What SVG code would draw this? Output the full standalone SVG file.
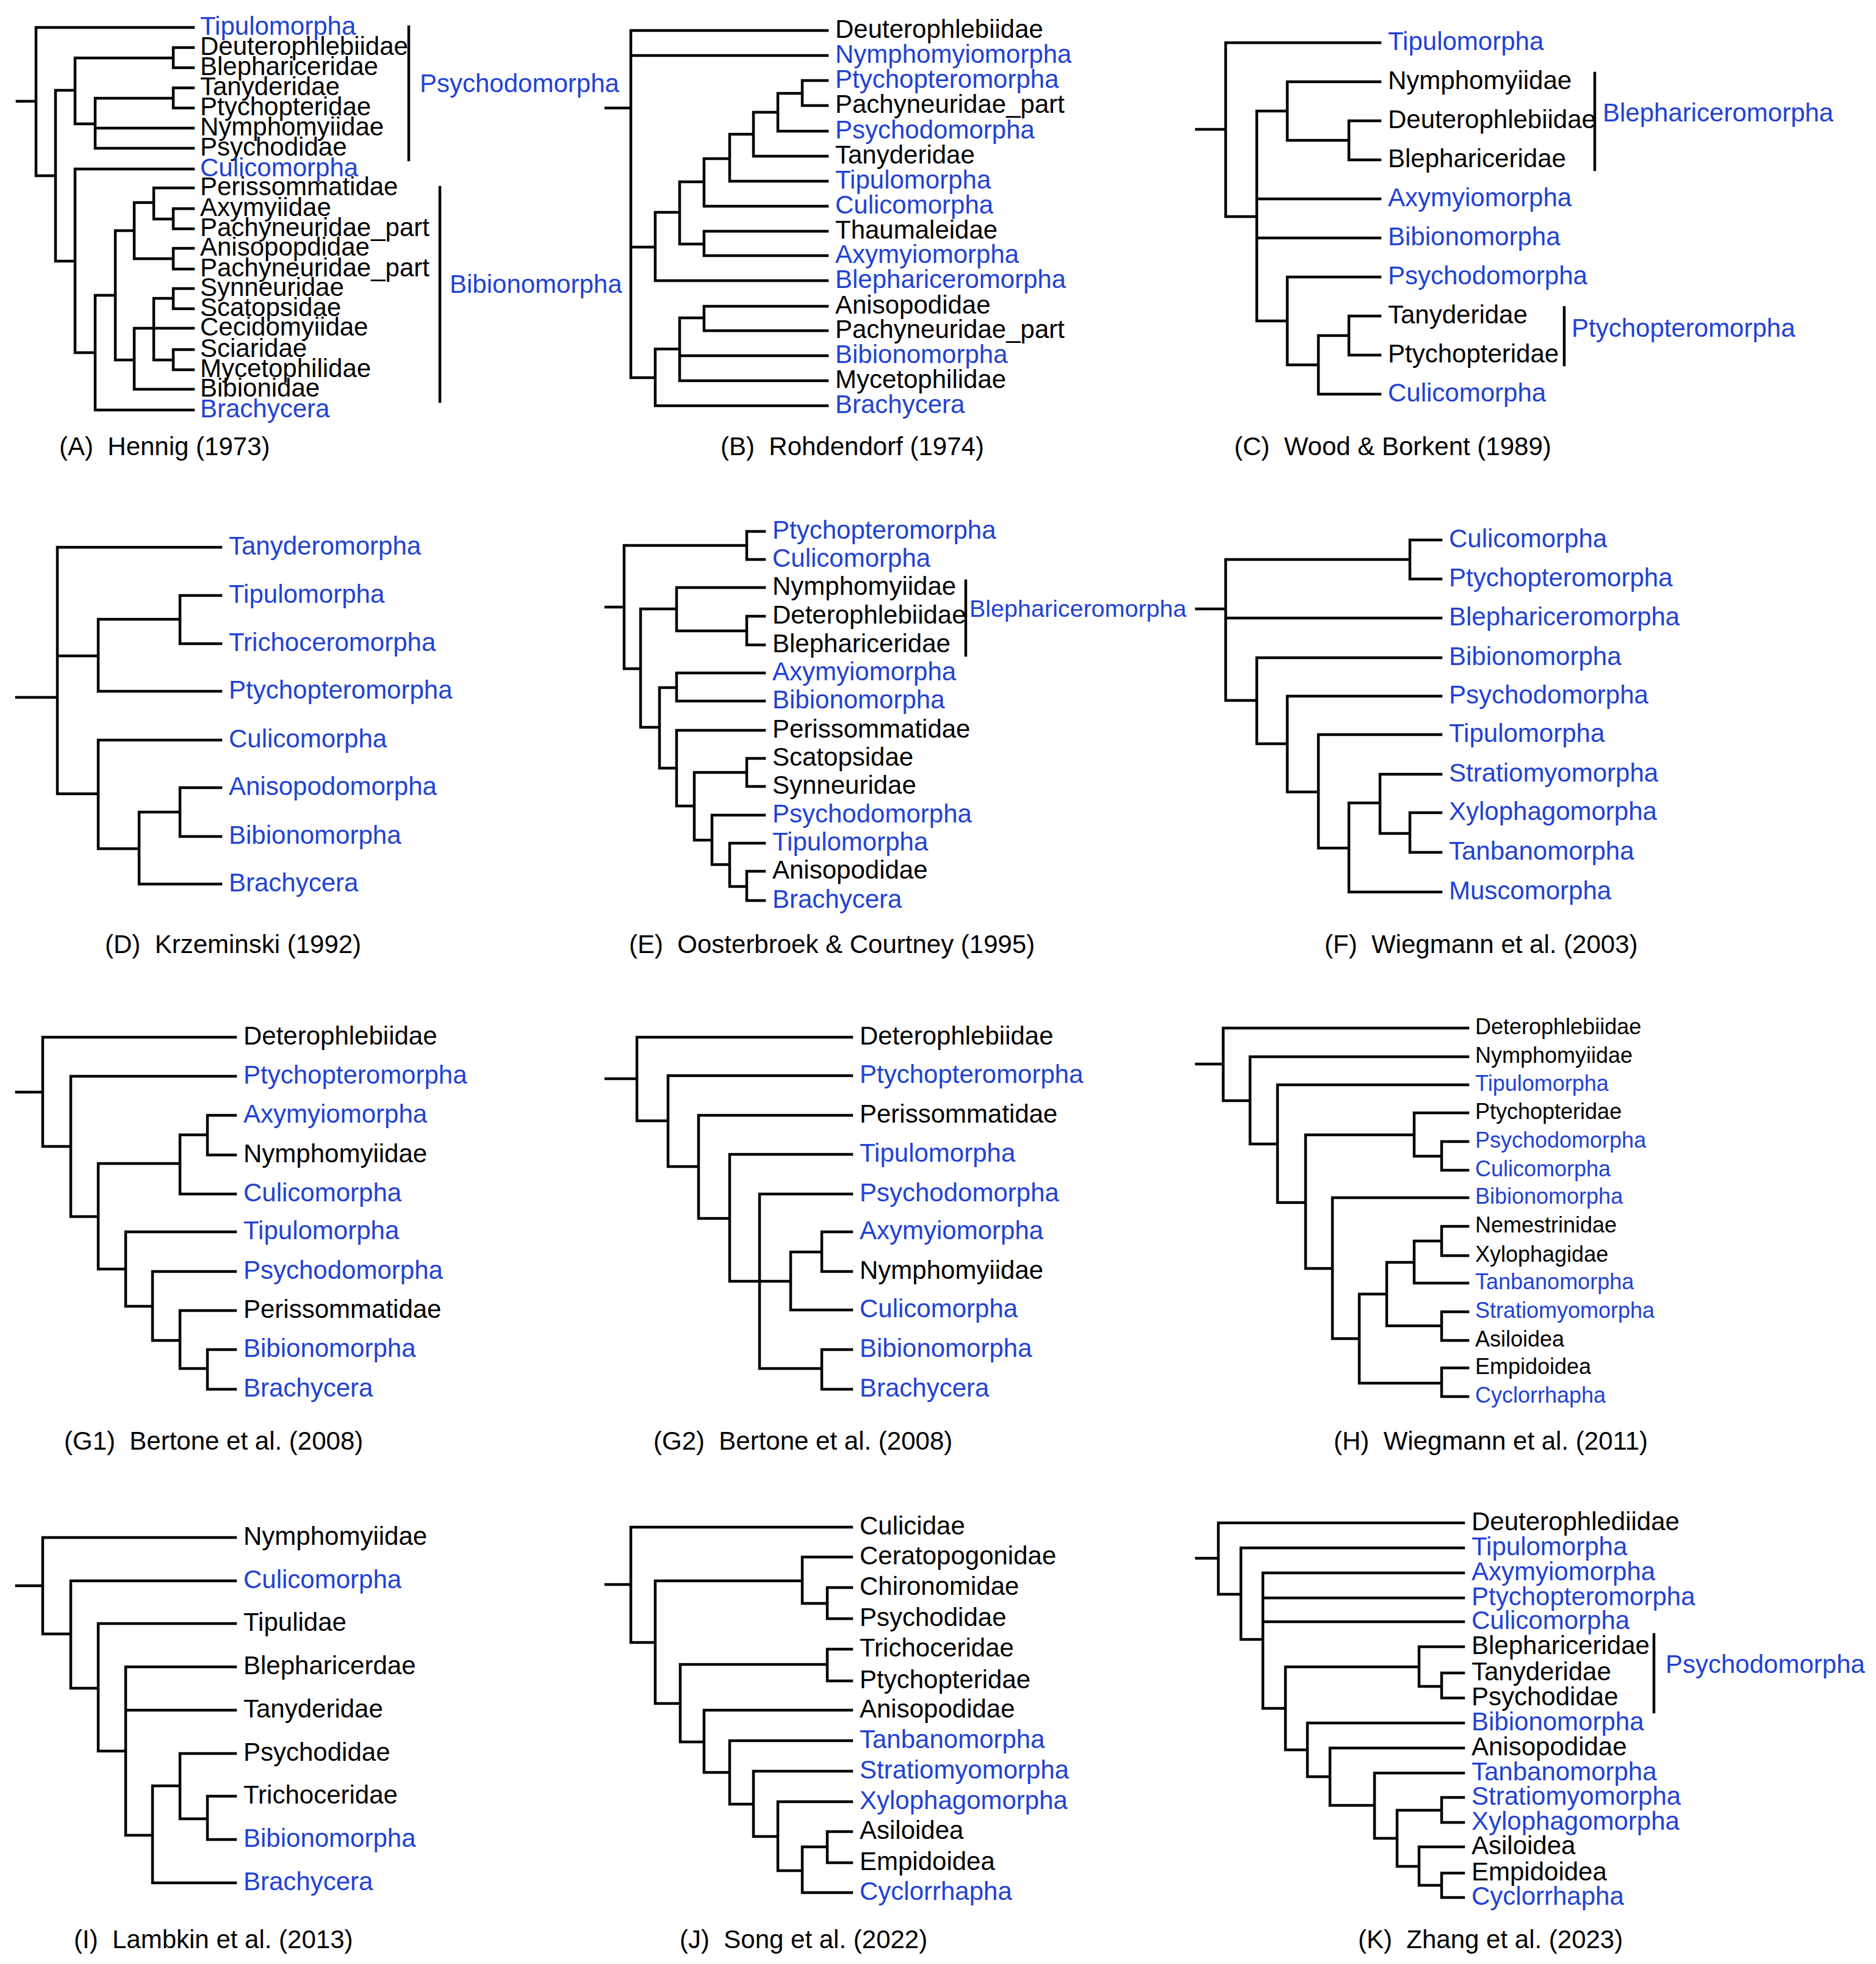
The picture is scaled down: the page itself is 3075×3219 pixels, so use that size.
<svg xmlns="http://www.w3.org/2000/svg" width="3075" height="3219" viewBox="0 0 3075 3219">
<style>
.t{font-family:"Liberation Sans",Arial,sans-serif;font-size:42px;fill:#000;white-space:pre}
.s{font-size:36px}
.b{fill:#2142d4}
.e{fill:none;stroke:#000;stroke-width:4.5;stroke-linecap:square;stroke-linejoin:miter}
</style>
<rect width="3075" height="3219" fill="#fff"/>
<g id="connectors" class="e">
<path id="edges-A" d="M28 166H59 M59 45V288 M59 45H317 M59 288H91 M91 148V428 M91 148H123 M123 95V203 M123 95H284 M284 78V111 M284 78H317 M284 111H317 M123 203H156 M156 161V243 M156 161H284 M284 144V177 M284 144H317 M284 177H317 M156 210H317 M156 243H317 M91 428H123 M123 277V578 M123 277H317 M123 578H156 M156 484V672 M156 672H317 M156 484H189 M189 378V590 M189 378H220 M220 332V424 M220 332H252 M252 308V359 M252 308H317 M252 359H284 M284 342V375 M284 342H317 M284 375H317 M220 424H284 M284 407V441 M284 407H317 M284 441H317 M189 590H220 M220 538V638 M220 538H317 M252 489V590 M252 489H284 M284 473V506 M284 473H317 M284 506H317 M252 590H284 M284 573V606 M284 573H317 M284 606H317 M220 638H317"/>
<path id="edges-B" d="M993 177H1034 M1034 50V619 M1034 50H1356 M1034 91H1356 M1034 405H1074 M1074 348V460 M1074 348H1114 M1114 298V400 M1114 298H1154 M1154 260V338 M1154 260H1196 M1196 220V297 M1196 220H1235 M1235 184V256 M1235 184H1275 M1275 153V215 M1275 153H1315 M1315 132V173 M1315 132H1356 M1315 173H1356 M1275 215H1356 M1235 256H1356 M1196 297H1356 M1154 338H1356 M1114 400H1154 M1154 379V419 M1154 379H1356 M1154 419H1356 M1074 460H1356 M1034 619H1074 M1074 572V665 M1074 572H1114 M1114 521V624 M1114 521H1154 M1154 502V542 M1154 502H1356 M1154 542H1356 M1114 583H1356 M1114 624H1356 M1074 665H1356"/>
<path id="edges-C" d="M1961 212H2009 M2009 70V355 M2009 70H2262 M2009 355H2060 M2060 182V526 M2060 182H2110 M2110 134V230 M2110 134H2262 M2110 230H2211 M2211 198V262 M2211 198H2262 M2211 262H2262 M2060 326H2262 M2060 390H2262 M2060 526H2110 M2110 454V598 M2110 454H2262 M2110 598H2161 M2161 550V646 M2161 550H2211 M2211 518V582 M2211 518H2262 M2211 582H2262 M2161 646H2262"/>
<path id="edges-D" d="M27 1143H94 M94 897V1301 M94 897H362 M94 1075H161 M161 1015V1133 M161 1015H295 M295 976V1055 M295 976H362 M295 1055H362 M161 1133H362 M94 1301H161 M161 1213V1391 M161 1213H362 M161 1391H228 M228 1331V1449 M228 1331H295 M295 1291V1371 M295 1291H362 M295 1371H362 M228 1449H362"/>
<path id="edges-E" d="M993 995H1023 M1023 894V1096 M1023 894H1224 M1224 871V917 M1224 871H1253 M1224 917H1253 M1023 1096H1050 M1050 998V1192 M1050 998H1109 M1109 963V1034 M1109 963H1253 M1109 1034H1224 M1224 1010V1057 M1224 1010H1253 M1224 1057H1253 M1050 1192H1081 M1081 1127V1259 M1081 1127H1109 M1109 1103V1149 M1109 1103H1253 M1109 1149H1253 M1081 1259H1109 M1109 1197V1321 M1109 1197H1253 M1109 1321H1138 M1138 1266V1377 M1138 1266H1224 M1224 1243V1289 M1224 1243H1253 M1224 1289H1253 M1138 1377H1167 M1167 1336V1417 M1167 1336H1253 M1167 1417H1196 M1196 1382V1453 M1196 1382H1253 M1196 1453H1224 M1224 1428V1476 M1224 1428H1253 M1224 1476H1253"/>
<path id="edges-F" d="M1961 998H2009 M2009 917V1148 M2009 917H2311 M2311 885V949 M2311 885H2362 M2311 949H2362 M2009 1013H2362 M2009 1148H2060 M2060 1078V1219 M2060 1078H2362 M2060 1219H2110 M2110 1141V1298 M2110 1141H2362 M2110 1298H2161 M2161 1204V1390 M2161 1204H2362 M2161 1390H2211 M2211 1316V1462 M2211 1316H2262 M2262 1269V1366 M2262 1269H2362 M2262 1366H2311 M2311 1332V1397 M2311 1332H2362 M2311 1397H2362 M2211 1462H2362"/>
<path id="edges-G1" d="M27 1790H70 M70 1700V1879 M70 1700H386 M70 1879H116 M116 1764V1994 M116 1764H386 M116 1994H161 M161 1907V2080 M161 1907H295 M295 1860V1957 M295 1860H340 M340 1828V1893 M340 1828H386 M340 1893H386 M295 1957H386 M161 2080H206 M206 2019V2141 M206 2019H386 M206 2141H250 M250 2084V2197 M250 2084H386 M250 2197H295 M295 2148V2243 M295 2148H386 M295 2243H340 M340 2212V2277 M340 2212H386 M340 2277H386"/>
<path id="edges-G2" d="M993 1768H1044 M1044 1700V1837 M1044 1700H1396 M1044 1837H1095 M1095 1763V1912 M1095 1763H1396 M1095 1912H1145 M1145 1828V1997 M1145 1828H1396 M1145 1997H1196 M1196 1892V2100 M1196 1892H1396 M1196 2100H1296 M1245 1957V2243 M1245 1957H1396 M1245 2243H1347 M1347 2212V2277 M1347 2212H1396 M1347 2277H1396 M1296 2052V2147 M1296 2052H1347 M1347 2019V2084 M1347 2019H1396 M1347 2084H1396 M1296 2147H1396"/>
<path id="edges-H" d="M1961 1744H2005 M2005 1685V1804 M2005 1685H2406 M2005 1804H2049 M2049 1732V1875 M2049 1732H2406 M2049 1875H2094 M2094 1778V1971 M2094 1778H2406 M2094 1971H2140 M2140 1860V2079 M2140 1860H2318 M2318 1824V1895 M2318 1824H2406 M2318 1895H2363 M2363 1871V1918 M2363 1871H2406 M2363 1918H2406 M2140 2079H2184 M2184 1963V2194 M2184 1963H2406 M2184 2194H2228 M2228 2121V2267 M2228 2121H2273 M2273 2069V2173 M2273 2069H2318 M2318 2034V2103 M2318 2034H2363 M2363 2010V2058 M2363 2010H2406 M2363 2058H2406 M2318 2103H2406 M2273 2173H2363 M2363 2150V2197 M2363 2150H2406 M2363 2197H2406 M2228 2267H2363 M2363 2242V2289 M2363 2242H2406 M2363 2289H2406"/>
<path id="edges-I" d="M27 2599H70 M70 2520V2678 M70 2520H386 M70 2678H116 M116 2591V2767 M116 2591H386 M116 2767H161 M161 2661V2870 M161 2661H386 M161 2870H206 M206 2732V3008 M206 2732H386 M206 2803H386 M206 3008H250 M250 2927V3086 M250 2927H295 M295 2874V2981 M295 2874H386 M295 2981H340 M340 2944V3015 M340 2944H386 M340 3015H386 M250 3086H386"/>
<path id="edges-J" d="M993 2597H1034 M1034 2503V2692 M1034 2503H1396 M1034 2692H1074 M1074 2591V2792 M1074 2591H1315 M1315 2552V2628 M1315 2552H1396 M1315 2628H1356 M1356 2602V2653 M1356 2602H1396 M1356 2653H1396 M1074 2792H1115 M1115 2728V2855 M1115 2728H1356 M1356 2703V2755 M1356 2703H1396 M1356 2755H1396 M1115 2855H1154 M1154 2803V2905 M1154 2803H1396 M1154 2905H1196 M1196 2853V2957 M1196 2853H1396 M1196 2957H1235 M1235 2903V3010 M1235 2903H1396 M1235 3010H1275 M1275 2953V3066 M1275 2953H1396 M1275 3066H1315 M1315 3027V3102 M1315 3027H1356 M1356 3002V3053 M1356 3002H1396 M1356 3053H1396 M1315 3102H1396"/>
<path id="edges-K" d="M1961 2554H1997 M1997 2496V2613 M1997 2496H2399 M1997 2613H2034 M2034 2537V2687 M2034 2537H2399 M2034 2687H2070 M2070 2578V2800 M2070 2578H2399 M2070 2619H2399 M2070 2658H2399 M2070 2800H2107 M2107 2732V2868 M2107 2732H2326 M2326 2699V2764 M2326 2699H2399 M2326 2764H2363 M2363 2742V2783 M2363 2742H2399 M2363 2783H2399 M2107 2868H2143 M2143 2824V2912 M2143 2824H2399 M2143 2912H2180 M2180 2865V2959 M2180 2865H2399 M2180 2959H2253 M2253 2906V3013 M2253 2906H2399 M2253 3013H2290 M2290 2967V3059 M2290 2967H2363 M2363 2946V2987 M2363 2946H2399 M2363 2987H2399 M2290 3059H2326 M2326 3027V3090 M2326 3027H2399 M2326 3090H2363 M2363 3070V3110 M2363 3070H2399 M2363 3110H2399"/>
<path id="brackets" d="M670 44V262 M721 307V658 M2614 120V278 M2564 504V598 M1583 952V1074 M2711 2679V2806"/>
</g>
<g id="labels" transform="translate(0,12)">
<g id="A-Tipulomorpha"><text class="t b" x="328" y="45">Tipulomorpha</text></g>
<g id="A-Deuterophlebiidae"><text class="t" x="328" y="78">Deuterophlebiidae</text></g>
<g id="A-Blephariceridae"><text class="t" x="328" y="111">Blephariceridae</text></g>
<g id="A-Tanyderidae"><text class="t" x="328" y="144">Tanyderidae</text></g>
<g id="A-Ptychopteridae"><text class="t" x="328" y="177">Ptychopteridae</text></g>
<g id="A-Nymphomyiidae"><text class="t" x="328" y="210">Nymphomyiidae</text></g>
<g id="A-Psychodidae"><text class="t" x="328" y="243">Psychodidae</text></g>
<g id="A-Culicomorpha"><text class="t b" x="328" y="277">Culicomorpha</text></g>
<g id="A-Perissommatidae"><text class="t" x="328" y="308">Perissommatidae</text></g>
<g id="A-Axymyiidae"><text class="t" x="328" y="342">Axymyiidae</text></g>
<g id="A-Pachyneuridae_part-1"><text class="t" x="328" y="375">Pachyneuridae_part</text></g>
<g id="A-Anisopopdidae"><text class="t" x="328" y="407">Anisopopdidae</text></g>
<g id="A-Pachyneuridae_part-2"><text class="t" x="328" y="441">Pachyneuridae_part</text></g>
<g id="A-Synneuridae"><text class="t" x="328" y="473">Synneuridae</text></g>
<g id="A-Scatopsidae"><text class="t" x="328" y="506">Scatopsidae</text></g>
<g id="A-Cecidomyiidae"><text class="t" x="328" y="538">Cecidomyiidae</text></g>
<g id="A-Sciaridae"><text class="t" x="328" y="573">Sciaridae</text></g>
<g id="A-Mycetophilidae"><text class="t" x="328" y="606">Mycetophilidae</text></g>
<g id="A-Bibionidae"><text class="t" x="328" y="638">Bibionidae</text></g>
<g id="A-Brachycera"><text class="t b" x="328" y="672">Brachycera</text></g>
<g id="A-clade-Psychodomorpha"><text class="t b" x="688" y="139">Psychodomorpha</text></g>
<g id="A-clade-Bibionomorpha"><text class="t b" x="737" y="468">Bibionomorpha</text></g>

<g id="B-Deuterophlebiidae"><text class="t" x="1369" y="50">Deuterophlebiidae</text></g>
<g id="B-Nymphomyiomorpha"><text class="t b" x="1369" y="91">Nymphomyiomorpha</text></g>
<g id="B-Ptychopteromorpha"><text class="t b" x="1369" y="132">Ptychopteromorpha</text></g>
<g id="B-Pachyneuridae_part-1"><text class="t" x="1369" y="173">Pachyneuridae_part</text></g>
<g id="B-Psychodomorpha"><text class="t b" x="1369" y="215">Psychodomorpha</text></g>
<g id="B-Tanyderidae"><text class="t" x="1369" y="256">Tanyderidae</text></g>
<g id="B-Tipulomorpha"><text class="t b" x="1369" y="297">Tipulomorpha</text></g>
<g id="B-Culicomorpha"><text class="t b" x="1369" y="338">Culicomorpha</text></g>
<g id="B-Thaumaleidae"><text class="t" x="1369" y="379">Thaumaleidae</text></g>
<g id="B-Axymyiomorpha"><text class="t b" x="1369" y="419">Axymyiomorpha</text></g>
<g id="B-Blephariceromorpha"><text class="t b" x="1369" y="460">Blephariceromorpha</text></g>
<g id="B-Anisopodidae"><text class="t" x="1369" y="502">Anisopodidae</text></g>
<g id="B-Pachyneuridae_part-2"><text class="t" x="1369" y="542">Pachyneuridae_part</text></g>
<g id="B-Bibionomorpha"><text class="t b" x="1369" y="583">Bibionomorpha</text></g>
<g id="B-Mycetophilidae"><text class="t" x="1369" y="624">Mycetophilidae</text></g>
<g id="B-Brachycera"><text class="t b" x="1369" y="665">Brachycera</text></g>

<g id="C-Tipulomorpha"><text class="t b" x="2275" y="70">Tipulomorpha</text></g>
<g id="C-Nymphomyiidae"><text class="t" x="2275" y="134">Nymphomyiidae</text></g>
<g id="C-Deuterophlebiidae"><text class="t" x="2275" y="198">Deuterophlebiidae</text></g>
<g id="C-Blephariceridae"><text class="t" x="2275" y="262">Blephariceridae</text></g>
<g id="C-Axymyiomorpha"><text class="t b" x="2275" y="326">Axymyiomorpha</text></g>
<g id="C-Bibionomorpha"><text class="t b" x="2275" y="390">Bibionomorpha</text></g>
<g id="C-Psychodomorpha"><text class="t b" x="2275" y="454">Psychodomorpha</text></g>
<g id="C-Tanyderidae"><text class="t" x="2275" y="518">Tanyderidae</text></g>
<g id="C-Ptychopteridae"><text class="t" x="2275" y="582">Ptychopteridae</text></g>
<g id="C-Culicomorpha"><text class="t b" x="2275" y="646">Culicomorpha</text></g>
<g id="C-clade-Blephariceromorpha"><text class="t b" x="2627" y="187">Blephariceromorpha</text></g>
<g id="C-clade-Ptychopteromorpha"><text class="t b" x="2576" y="540">Ptychopteromorpha</text></g>

<g id="D-Tanyderomorpha"><text class="t b" x="375" y="897">Tanyderomorpha</text></g>
<g id="D-Tipulomorpha"><text class="t b" x="375" y="976">Tipulomorpha</text></g>
<g id="D-Trichoceromorpha"><text class="t b" x="375" y="1055">Trichoceromorpha</text></g>
<g id="D-Ptychopteromorpha"><text class="t b" x="375" y="1133">Ptychopteromorpha</text></g>
<g id="D-Culicomorpha"><text class="t b" x="375" y="1213">Culicomorpha</text></g>
<g id="D-Anisopodomorpha"><text class="t b" x="375" y="1291">Anisopodomorpha</text></g>
<g id="D-Bibionomorpha"><text class="t b" x="375" y="1371">Bibionomorpha</text></g>
<g id="D-Brachycera"><text class="t b" x="375" y="1449">Brachycera</text></g>

<g id="E-Ptychopteromorpha"><text class="t b" x="1266" y="871">Ptychopteromorpha</text></g>
<g id="E-Culicomorpha"><text class="t b" x="1266" y="917">Culicomorpha</text></g>
<g id="E-Nymphomyiidae"><text class="t" x="1266" y="963">Nymphomyiidae</text></g>
<g id="E-Deterophlebiidae"><text class="t" x="1266" y="1010">Deterophlebiidae</text></g>
<g id="E-Blephariceridae"><text class="t" x="1266" y="1057">Blephariceridae</text></g>
<g id="E-Axymyiomorpha"><text class="t b" x="1266" y="1103">Axymyiomorpha</text></g>
<g id="E-Bibionomorpha"><text class="t b" x="1266" y="1149">Bibionomorpha</text></g>
<g id="E-Perissommatidae"><text class="t" x="1266" y="1197">Perissommatidae</text></g>
<g id="E-Scatopsidae"><text class="t" x="1266" y="1243">Scatopsidae</text></g>
<g id="E-Synneuridae"><text class="t" x="1266" y="1289">Synneuridae</text></g>
<g id="E-Psychodomorpha"><text class="t b" x="1266" y="1336">Psychodomorpha</text></g>
<g id="E-Tipulomorpha"><text class="t b" x="1266" y="1382">Tipulomorpha</text></g>
<g id="E-Anisopodidae"><text class="t" x="1266" y="1428">Anisopodidae</text></g>
<g id="E-Brachycera"><text class="t b" x="1266" y="1476">Brachycera</text></g>
<g id="E-clade-Blephariceromorpha"><text class="t b" x="1589" y="999" style="font-size:39.5px">Blephariceromorpha</text></g>

<g id="F-Culicomorpha"><text class="t b" x="2375" y="885">Culicomorpha</text></g>
<g id="F-Ptychopteromorpha"><text class="t b" x="2375" y="949">Ptychopteromorpha</text></g>
<g id="F-Blephariceromorpha"><text class="t b" x="2375" y="1013">Blephariceromorpha</text></g>
<g id="F-Bibionomorpha"><text class="t b" x="2375" y="1078">Bibionomorpha</text></g>
<g id="F-Psychodomorpha"><text class="t b" x="2375" y="1141">Psychodomorpha</text></g>
<g id="F-Tipulomorpha"><text class="t b" x="2375" y="1204">Tipulomorpha</text></g>
<g id="F-Stratiomyomorpha"><text class="t b" x="2375" y="1269">Stratiomyomorpha</text></g>
<g id="F-Xylophagomorpha"><text class="t b" x="2375" y="1332">Xylophagomorpha</text></g>
<g id="F-Tanbanomorpha"><text class="t b" x="2375" y="1397">Tanbanomorpha</text></g>
<g id="F-Muscomorpha"><text class="t b" x="2375" y="1462">Muscomorpha</text></g>

<g id="G1-Deterophlebiidae"><text class="t" x="399" y="1700">Deterophlebiidae</text></g>
<g id="G1-Ptychopteromorpha"><text class="t b" x="399" y="1764">Ptychopteromorpha</text></g>
<g id="G1-Axymyiomorpha"><text class="t b" x="399" y="1828">Axymyiomorpha</text></g>
<g id="G1-Nymphomyiidae"><text class="t" x="399" y="1893">Nymphomyiidae</text></g>
<g id="G1-Culicomorpha"><text class="t b" x="399" y="1957">Culicomorpha</text></g>
<g id="G1-Tipulomorpha"><text class="t b" x="399" y="2019">Tipulomorpha</text></g>
<g id="G1-Psychodomorpha"><text class="t b" x="399" y="2084">Psychodomorpha</text></g>
<g id="G1-Perissommatidae"><text class="t" x="399" y="2148">Perissommatidae</text></g>
<g id="G1-Bibionomorpha"><text class="t b" x="399" y="2212">Bibionomorpha</text></g>
<g id="G1-Brachycera"><text class="t b" x="399" y="2277">Brachycera</text></g>

<g id="G2-Deterophlebiidae"><text class="t" x="1409" y="1700">Deterophlebiidae</text></g>
<g id="G2-Ptychopteromorpha"><text class="t b" x="1409" y="1763">Ptychopteromorpha</text></g>
<g id="G2-Perissommatidae"><text class="t" x="1409" y="1828">Perissommatidae</text></g>
<g id="G2-Tipulomorpha"><text class="t b" x="1409" y="1892">Tipulomorpha</text></g>
<g id="G2-Psychodomorpha"><text class="t b" x="1409" y="1957">Psychodomorpha</text></g>
<g id="G2-Axymyiomorpha"><text class="t b" x="1409" y="2019">Axymyiomorpha</text></g>
<g id="G2-Nymphomyiidae"><text class="t" x="1409" y="2084">Nymphomyiidae</text></g>
<g id="G2-Culicomorpha"><text class="t b" x="1409" y="2147">Culicomorpha</text></g>
<g id="G2-Bibionomorpha"><text class="t b" x="1409" y="2212">Bibionomorpha</text></g>
<g id="G2-Brachycera"><text class="t b" x="1409" y="2277">Brachycera</text></g>

<g transform="translate(0,-2)">
<g id="H-Deterophlebiidae"><text class="t s" x="2418" y="1685">Deterophlebiidae</text></g>
<g id="H-Nymphomyiidae"><text class="t s" x="2418" y="1732">Nymphomyiidae</text></g>
<g id="H-Tipulomorpha"><text class="t s b" x="2418" y="1778">Tipulomorpha</text></g>
<g id="H-Ptychopteridae"><text class="t s" x="2418" y="1824">Ptychopteridae</text></g>
<g id="H-Psychodomorpha"><text class="t s b" x="2418" y="1871">Psychodomorpha</text></g>
<g id="H-Culicomorpha"><text class="t s b" x="2418" y="1918">Culicomorpha</text></g>
<g id="H-Bibionomorpha"><text class="t s b" x="2418" y="1963">Bibionomorpha</text></g>
<g id="H-Nemestrinidae"><text class="t s" x="2418" y="2010">Nemestrinidae</text></g>
<g id="H-Xylophagidae"><text class="t s" x="2418" y="2058">Xylophagidae</text></g>
<g id="H-Tanbanomorpha"><text class="t s b" x="2418" y="2103">Tanbanomorpha</text></g>
<g id="H-Stratiomyomorpha"><text class="t s b" x="2418" y="2150">Stratiomyomorpha</text></g>
<g id="H-Asiloidea"><text class="t s" x="2418" y="2197">Asiloidea</text></g>
<g id="H-Empidoidea"><text class="t s" x="2418" y="2242">Empidoidea</text></g>
<g id="H-Cyclorrhapha"><text class="t s b" x="2418" y="2289">Cyclorrhapha</text></g>
</g>

<g id="I-Nymphomyiidae"><text class="t" x="399" y="2520">Nymphomyiidae</text></g>
<g id="I-Culicomorpha"><text class="t b" x="399" y="2591">Culicomorpha</text></g>
<g id="I-Tipulidae"><text class="t" x="399" y="2661">Tipulidae</text></g>
<g id="I-Blepharicerdae"><text class="t" x="399" y="2732">Blepharicerdae</text></g>
<g id="I-Tanyderidae"><text class="t" x="399" y="2803">Tanyderidae</text></g>
<g id="I-Psychodidae"><text class="t" x="399" y="2874">Psychodidae</text></g>
<g id="I-Trichoceridae"><text class="t" x="399" y="2944">Trichoceridae</text></g>
<g id="I-Bibionomorpha"><text class="t b" x="399" y="3015">Bibionomorpha</text></g>
<g id="I-Brachycera"><text class="t b" x="399" y="3086">Brachycera</text></g>

<g id="J-Culicidae"><text class="t" x="1409" y="2503">Culicidae</text></g>
<g id="J-Ceratopogonidae"><text class="t" x="1409" y="2552">Ceratopogonidae</text></g>
<g id="J-Chironomidae"><text class="t" x="1409" y="2602">Chironomidae</text></g>
<g id="J-Psychodidae"><text class="t" x="1409" y="2653">Psychodidae</text></g>
<g id="J-Trichoceridae"><text class="t" x="1409" y="2703">Trichoceridae</text></g>
<g id="J-Ptychopteridae"><text class="t" x="1409" y="2755">Ptychopteridae</text></g>
<g id="J-Anisopodidae"><text class="t" x="1409" y="2803">Anisopodidae</text></g>
<g id="J-Tanbanomorpha"><text class="t b" x="1409" y="2853">Tanbanomorpha</text></g>
<g id="J-Stratiomyomorpha"><text class="t b" x="1409" y="2903">Stratiomyomorpha</text></g>
<g id="J-Xylophagomorpha"><text class="t b" x="1409" y="2953">Xylophagomorpha</text></g>
<g id="J-Asiloidea"><text class="t" x="1409" y="3002">Asiloidea</text></g>
<g id="J-Empidoidea"><text class="t" x="1409" y="3053">Empidoidea</text></g>
<g id="J-Cyclorrhapha"><text class="t b" x="1409" y="3102">Cyclorrhapha</text></g>

<g id="K-Deuterophlediidae"><text class="t" x="2412" y="2496">Deuterophlediidae</text></g>
<g id="K-Tipulomorpha"><text class="t b" x="2412" y="2537">Tipulomorpha</text></g>
<g id="K-Axymyiomorpha"><text class="t b" x="2412" y="2578">Axymyiomorpha</text></g>
<g id="K-Ptychopteromorpha"><text class="t b" x="2412" y="2619">Ptychopteromorpha</text></g>
<g id="K-Culicomorpha"><text class="t b" x="2412" y="2658">Culicomorpha</text></g>
<g id="K-Blephariceridae"><text class="t" x="2412" y="2699">Blephariceridae</text></g>
<g id="K-Tanyderidae"><text class="t" x="2412" y="2742">Tanyderidae</text></g>
<g id="K-Psychodidae"><text class="t" x="2412" y="2783">Psychodidae</text></g>
<g id="K-Bibionomorpha"><text class="t b" x="2412" y="2824">Bibionomorpha</text></g>
<g id="K-Anisopodidae"><text class="t" x="2412" y="2865">Anisopodidae</text></g>
<g id="K-Tanbanomorpha"><text class="t b" x="2412" y="2906">Tanbanomorpha</text></g>
<g id="K-Stratiomyomorpha"><text class="t b" x="2412" y="2946">Stratiomyomorpha</text></g>
<g id="K-Xylophagomorpha"><text class="t b" x="2412" y="2987">Xylophagomorpha</text></g>
<g id="K-Asiloidea"><text class="t" x="2412" y="3027">Asiloidea</text></g>
<g id="K-Empidoidea"><text class="t" x="2412" y="3070">Empidoidea</text></g>
<g id="K-Cyclorrhapha"><text class="t b" x="2412" y="3110">Cyclorrhapha</text></g>
<g id="K-clade-Psychodomorpha"><text class="t b" x="2730" y="2730">Psychodomorpha</text></g>
</g>
<g id="captions">
<text class="t" x="97" y="746" xml:space="preserve">(A)  Hennig (1973)</text>
<text class="t" x="1181" y="746" xml:space="preserve">(B)  Rohdendorf (1974)</text>
<text class="t" x="2023" y="746" xml:space="preserve">(C)  Wood &amp; Borkent (1989)</text>
<text class="t" x="172" y="1562" xml:space="preserve">(D)  Krzeminski (1992)</text>
<text class="t" x="1031" y="1562" xml:space="preserve">(E)  Oosterbroek &amp; Courtney (1995)</text>
<text class="t" x="2171" y="1562" xml:space="preserve">(F)  Wiegmann et al. (2003)</text>
<text class="t" x="105" y="2376" xml:space="preserve">(G1)  Bertone et al. (2008)</text>
<text class="t" x="1071" y="2376" xml:space="preserve">(G2)  Bertone et al. (2008)</text>
<text class="t" x="2186" y="2376" xml:space="preserve">(H)  Wiegmann et al. (2011)</text>
<text class="t" x="121" y="3193" xml:space="preserve">(I)  Lambkin et al. (2013)</text>
<text class="t" x="1114" y="3193" xml:space="preserve">(J)  Song et al. (2022)</text>
<text class="t" x="2226" y="3193" xml:space="preserve">(K)  Zhang et al. (2023)</text>
</g>
</svg>
